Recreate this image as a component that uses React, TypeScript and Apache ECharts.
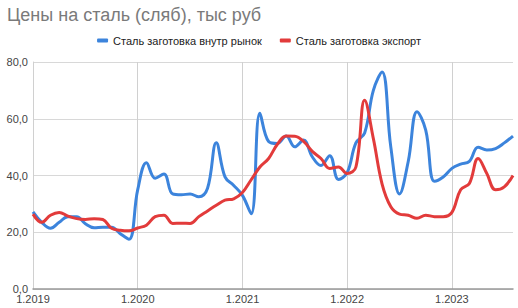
import React, { useEffect, useRef } from "react";
import * as echarts from "echarts";

const startYear = 2019;
const monthCount = 56;
const categories: string[] = Array.from({ length: monthCount }, (_, i) => `${(i % 12) + 1}.${startYear + Math.floor(i / 12)}`);

const domestic: number[] = [
  27.2, 23.5, 21.4, 23.5, 25.5, 25.5, 23.0, 21.6, 21.8, 21.8, 19.5, 17.5,
  35.0, 44.5, 39.0, 40.5, 33.5, 33.2, 33.5, 32.5, 35.5, 51.5, 39.5, 36.5,
  33.0, 26.5, 61.9, 52.0, 51.3, 53.9, 50.1, 52.5, 46.6, 43.5, 47.0, 38.6,
  41.0, 51.5, 55.0, 70.0, 76.5, 50.0, 33.5, 45.0, 62.5, 56.0, 38.0, 39.5,
  42.5, 44.0, 45.0, 50.0, 49.0, 49.5, 51.5, 53.9,
];

const exportPrice: number[] = [
  26.4, 23.5, 26.0, 27.0, 25.7, 24.8, 24.5, 24.8, 24.5, 21.4, 20.7, 20.5,
  21.5, 22.5, 25.5, 26.0, 23.1, 23.2, 23.1, 25.5, 27.5, 29.5, 31.3, 31.8,
  34.0, 38.5, 43.0, 46.0, 51.0, 53.9, 53.8, 52.0, 48.5, 46.0, 42.5, 43.0,
  40.7, 43.0, 66.5, 53.0, 37.0, 29.0, 26.4, 26.0, 24.9, 26.0, 25.5, 25.5,
  27.0, 35.0, 37.2, 46.0, 40.7, 35.0, 36.0, 40.0,
];

const seriesNames = ["Сталь заготовка внутр рынок", "Сталь заготовка экспорт"];
const titleText = "Цены на сталь (сляб), тыс руб";

export default function App() {
  const ref = useRef<HTMLDivElement>(null);
  useEffect(() => {
    if (!ref.current) return;
    const chart = echarts.init(ref.current, undefined, { renderer: "svg" });
    const font = "Liberation Sans, Arial, sans-serif";
    chart.setOption({
      animation: false,
      textStyle: { fontFamily: font },
      title: {
        text: titleText,
        left: 2,
        top: 1,
        textStyle: { fontFamily: font, fontSize: 18, fontWeight: "normal", color: "#7a7a7a" },
      },
      legend: {
        top: 30,
        left: "center",
        itemWidth: 11,
        itemHeight: 4,
        itemGap: 18,
        icon: "roundRect",
        textStyle: { fontFamily: font, fontSize: 11, color: "#222" },
        data: seriesNames,
      },
      grid: { left: 33, right: 5, top: 62, bottom: 19, containLabel: false },
      xAxis: {
        type: "category",
        data: categories,
        boundaryGap: false,
        axisTick: { show: false },
        axisLine: { lineStyle: { color: "#999", width: 1.5 } },
        axisLabel: {
          interval: 11,
          color: "#444",
          fontSize: 11,
          margin: 4,
          fontFamily: font,
        },
        splitLine: { show: true, interval: 11, lineStyle: { color: "#d0d0d0" } },
      },
      yAxis: {
        type: "value",
        min: 0,
        max: 80,
        interval: 20,
        axisLine: { show: true, lineStyle: { color: "#d0d0d0" } },
        axisTick: { show: false },
        axisLabel: {
          color: "#444",
          fontSize: 11,
          margin: 5,
          fontFamily: font,
          formatter: (v: number) => v.toFixed(1).replace(".", ","),
        },
        splitLine: { lineStyle: { color: "#d8d8d8" } },
      },
      series: [
        {
          name: seriesNames[0],
          type: "line",
          data: domestic,
          smooth: 0.4,
          showSymbol: false,
          lineStyle: { color: "#3c84dc", width: 3 },
          itemStyle: { color: "#3c84dc" },
        },
        {
          name: seriesNames[1],
          type: "line",
          data: exportPrice,
          smooth: 0.4,
          showSymbol: false,
          lineStyle: { color: "#e23b3b", width: 3 },
          itemStyle: { color: "#e23b3b" },
        },
      ],
    });
    return () => chart.dispose();
  }, []);
  return <div ref={ref} style={{ width: 518, height: 308, position: "absolute", left: 0, top: 0, background: "#fff" }} />;
}
